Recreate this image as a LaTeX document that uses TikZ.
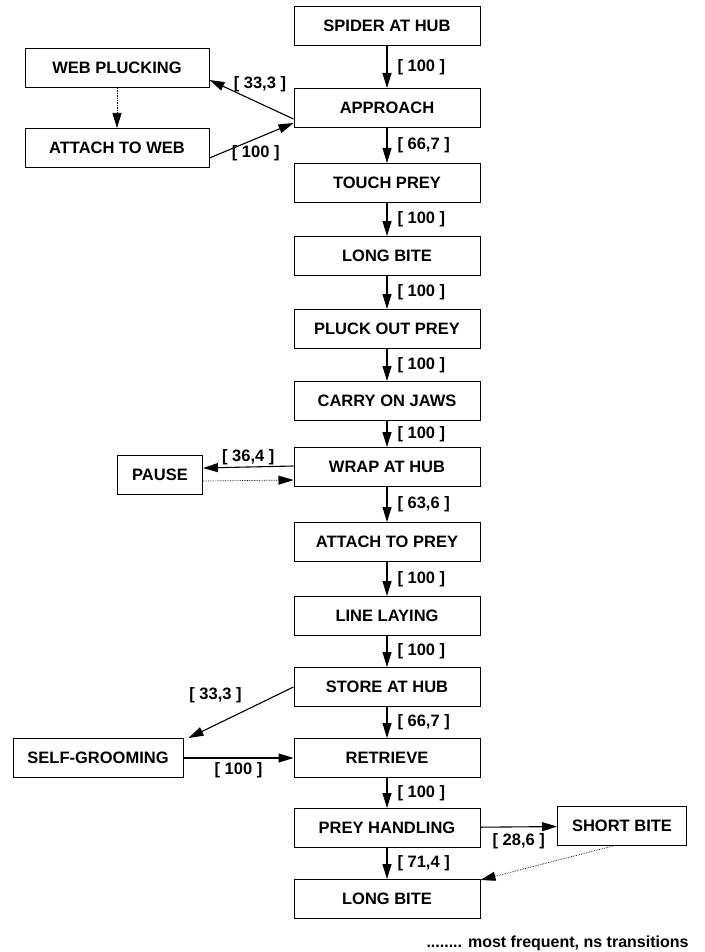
\documentclass[tikz,border=0pt]{standalone}
\usepackage{fontspec}
\setmainfont{Liberation Sans}
\usetikzlibrary{arrows.meta}

\begin{document}
\begin{tikzpicture}[x=1pt, y=-1pt,
          every node/.style={font=\bfseries\fontsize{16.5}{18}\selectfont},
          box/.style={draw, line width=1pt, minimum width=186pt, minimum height=39pt, inner sep=0pt},
          link/.style={line width=1.1pt, -{Triangle[length=15pt, width=9pt]}},
          rare/.style={line width=0.7pt, densely dotted, -{Triangle[length=15pt, width=9pt]}},
          lab/.style={inner sep=2pt}
        ]
        \clip (0,0) rectangle (704,952);

        % main chain
        \node[box] (hub)     at (387,26)  {SPIDER AT HUB};
        \node[box] (appr)    at (387,108) {APPROACH};
        \node[box] (touch)   at (387,183) {TOUCH PREY};
        \node[box] (bite)    at (387,256) {LONG BITE};
        \node[box] (pluck)   at (387,329) {PLUCK OUT PREY};
        \node[box] (carry)   at (387,401) {CARRY ON JAWS};
        \node[box] (wrap)    at (387,467) {WRAP AT HUB};
        \node[box] (attach)  at (387,542) {ATTACH TO PREY};
        \node[box] (line)    at (387,616) {LINE LAYING};
        \node[box] (store)   at (387,687) {STORE AT HUB};
        \node[box] (retr)    at (387,758) {RETRIEVE};
        \node[box] (handle)  at (387,828) {PREY HANDLING};
        \node[box] (longb)   at (387,899) {LONG BITE};

        % side boxes
        \node[box, minimum width=184pt] (webpl)  at (117,68)  {WEB PLUCKING};
        \node[box, minimum width=184pt] (webat)  at (117,148) {ATTACH TO WEB};
        \node[box, minimum width=85pt]  (pause)  at (160,475) {PAUSE};
        \node[box, minimum width=170pt] (groom)  at (98,758)  {SELF-GROOMING};
        \node[box, minimum width=129pt] (shortb) at (622,826) {SHORT BITE};

        \draw[link] (hub) -- (appr) node[lab, midway, right, xshift=8pt] {[ 100 ]};
        \draw[link] (appr) -- (touch) node[lab, midway, right, xshift=8pt] {[ 66,7 ]};
        \draw[link] (touch) -- (bite) node[lab, midway, right, xshift=8pt] {[ 100 ]};
        \draw[link] (bite) -- (pluck) node[lab, midway, right, xshift=8pt] {[ 100 ]};
        \draw[link] (pluck) -- (carry) node[lab, midway, right, xshift=8pt] {[ 100 ]};
        \draw[link] (carry) -- (wrap) node[lab, midway, right, xshift=8pt] {[ 100 ]};
        \draw[link] (wrap) -- (attach) node[lab, midway, right, xshift=8pt] {[ 63,6 ]};
        \draw[link] (attach) -- (line) node[lab, midway, right, xshift=8pt] {[ 100 ]};
        \draw[link] (line) -- (store) node[lab, midway, right, xshift=8pt] {[ 100 ]};
        \draw[link] (store) -- (retr) node[lab, midway, right, xshift=8pt] {[ 66,7 ]};
        \draw[link] (retr) -- (handle) node[lab, midway, right, xshift=8pt] {[ 100 ]};
        \draw[link] (handle) -- (longb) node[lab, midway, right, xshift=8pt] {[ 71,4 ]};

        % web loop
        \draw[link] ([yshift=-11pt]appr.west) -- ([yshift=-12pt]webpl.east)
            node[lab, pos=0.4, above, yshift=9pt] {[ 33,3 ]};
        \draw[rare] (webpl) -- (webat);
        \draw[link] ([yshift=-10pt]webat.east) -- ([yshift=-15pt]appr.west)
            node[lab, pos=0.55, below, yshift=-4pt] {[ 100 ]};

        % pause loop
        \draw[link] ([yshift=1pt]wrap.west) -- ([yshift=7pt]pause.east)
            node[lab, midway, above] {[ 36,4 ]};
        \draw[rare] ([yshift=-6pt]pause.east) -- ([yshift=-13pt]wrap.west);

        % grooming loop
        \draw[link] (store.west) -- ([xshift=5pt]groom.north east)
            node[lab, pos=0.45, above left, xshift=-2pt, yshift=4pt] {[ 33,3 ]};
        \draw[link] (groom) -- (retr) node[lab, midway, below, yshift=-2pt] {[ 100 ]};

        % short bite
        \draw[link] (handle) -- (shortb) node[lab, midway, below, yshift=-4pt] {[ 28,6 ]};
        \draw[rare] ([xshift=-9pt]shortb.south) -- ([yshift=-1pt]longb.north east);

        % legend
        \node[anchor=west, font=\bfseries\fontsize{16}{18}\selectfont] (legend) at (423,943)
            {........ most frequent, ns transitions};
\end{tikzpicture}
\end{document}
